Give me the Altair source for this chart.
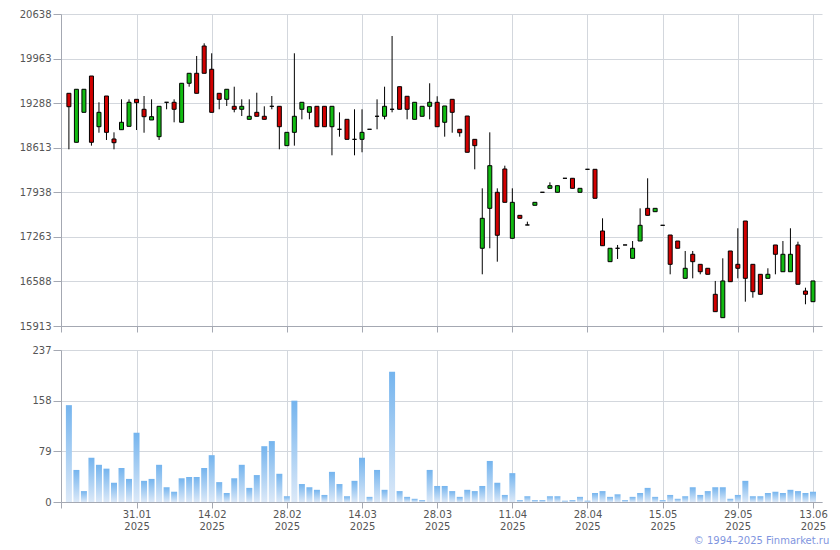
import altair as alt
import pandas as pd

# ---- data ----
opens = [19437, 18695, 19149, 19699, 18931, 19396, 18745, 18886, 18937, 19346,
         19195, 19033, 18780, 19301, 19301, 18998, 19589, 19740, 20153, 19801,
         19437, 19346, 19240, 19195, 19043, 19149, 19089, 19240, 19240, 18644,
         18846, 19195, 19149, 19240, 19240, 18931, 18892, 19043, 18740, 18740,
         18892, 19089, 19089, 19195, 19537, 19392, 19043, 19089, 19240, 19301,
         18998, 19346, 18892, 19093, 18740, 17090, 17695, 17938, 18291, 17241,
         17589, 17443, 17741, 17938, 17998, 17938, 18150, 18150, 17938, 18286,
         18286, 17352, 16887, 17090, 17140, 16938, 17200, 17695, 17644, 17438,
         17291, 17200, 16635, 16999, 16847, 16787, 16393, 16039, 17049, 16847,
         17503, 16847, 16696, 16635, 17140, 16735, 16735, 17140, 16443, 16281]
highs = [19437, 19498, 19498, 19699, 19301, 19396, 18846, 19346, 19346, 19346,
         19396, 19346, 19240, 19301, 19346, 19589, 19740, 20002, 20194, 20043,
         19437, 19498, 19537, 19346, 19346, 19446, 19240, 19396, 19240, 18846,
         20043, 19301, 19234, 19240, 19240, 19240, 19149, 19043, 19195, 19195,
         18892, 19346, 19537, 20305, 19537, 19392, 19301, 19240, 19589, 19392,
         19245, 19346, 18892, 19093, 18740, 17998, 18846, 17998, 18341, 17998,
         17589, 17493, 17786, 17938, 18089, 18038, 18150, 18150, 17998, 18286,
         18286, 17544, 17090, 17140, 17140, 17200, 17695, 18150, 17695, 17438,
         17291, 17200, 17049, 17049, 16847, 16787, 16595, 16938, 17049, 17393,
         17503, 16847, 16696, 16787, 17140, 17200, 17393, 17190, 16493, 16595]
lows = [18589, 18695, 19149, 18644, 18840, 18730, 18589, 18886, 18937, 18881,
        18840, 19033, 18730, 19195, 18998, 18998, 19537, 19437, 19740, 19149,
        19195, 19245, 19149, 19093, 19043, 19089, 19043, 19195, 18589, 18644,
        18644, 19043, 19043, 18931, 18931, 18498, 18780, 18740, 18498, 18544,
        18892, 18892, 19043, 19149, 19195, 19043, 19043, 19089, 19043, 18931,
        18780, 18840, 18780, 18544, 18286, 16696, 17090, 16887, 17786, 17241,
        17544, 17443, 17741, 17938, 17998, 17938, 18150, 17998, 17938, 18286,
        17847, 17129, 16887, 16928, 17140, 16938, 17200, 17589, 17644, 17438,
        16696, 17090, 16635, 16635, 16696, 16696, 16130, 16039, 16584, 16635,
        16281, 16342, 16393, 16635, 16696, 16735, 16735, 16545, 16242, 16281]
closes = [19234, 19498, 19498, 18695, 19149, 18846, 18689, 18998, 19301, 19295,
          19083, 19083, 19240, 19301, 19195, 19589, 19740, 19437, 19740, 19149,
          19346, 19498, 19195, 19240, 19089, 19089, 19043, 19240, 18931, 18846,
          19089, 19301, 19234, 18931, 18931, 19240, 18892, 18740, 18740, 18846,
          18892, 19089, 19240, 19195, 19195, 19195, 19301, 19240, 19301, 18931,
          19245, 19149, 18840, 18544, 18644, 17544, 18341, 17287, 17786, 17786,
          17544, 17443, 17786, 17938, 18038, 18038, 18150, 17998, 17998, 18286,
          17847, 17129, 17090, 17090, 17140, 17090, 17438, 17589, 17695, 17438,
          16847, 17090, 16787, 16887, 16735, 16696, 16130, 16595, 16584, 16787,
          16635, 16433, 16393, 16696, 16999, 16999, 16999, 16545, 16393, 16595]
volumes = [151, 50, 17, 69, 58, 52, 30, 53, 36, 108,
           33, 36, 58, 23, 16, 37, 39, 39, 53, 73,
           31, 14, 37, 58, 22, 42, 87, 95, 44, 9,
           158, 28, 23, 19, 11, 47, 28, 9, 33, 69,
           8, 50, 19, 203, 17, 8, 5, 3, 50, 25,
           25, 17, 8, 19, 17, 25, 64, 30, 11, 45,
           3, 9, 3, 3, 9, 9, 2, 3, 8, 2,
           14, 17, 8, 12, 3, 8, 14, 22, 8, 3,
           11, 5, 9, 23, 11, 17, 23, 23, 5, 11,
           33, 9, 9, 14, 16, 14, 19, 17, 14, 16]

tick_index = [9, 19, 29, 39, 49, 59, 69, 79, 89, 99]
tick_dates = ["31.01", "14.02", "28.02", "14.03", "28.03",
              "11.04", "28.04", "15.05", "29.05", "13.06"]
tick_year = "2025"
price_ticks = [15913, 16588, 17263, 17938, 18613, 19288, 19963, 20638]
volume_ticks = [0, 79, 158, 237]

df = pd.DataFrame({
    "i": list(range(len(opens))),
    "open": opens, "high": highs, "low": lows, "close": closes,
    "volume": volumes,
})

# ---- style ----
FONT = "DejaVu Sans"
LABEL_COLOR = "#555555"
GRID = "#d3d7dd"
AXIS = "#a4a8b2"
UP = "#12bb12"
DOWN = "#d10000"

x_min, x_max = -1.05, 100.2
x_scale = alt.Scale(domain=[x_min, x_max], nice=False, zero=False, padding=0)

label_expr = " : ".join(
    f"datum.value == {v} ? ['{d}', '{tick_year}']" for v, d in zip(tick_index, tick_dates)
) + " : ''"

top_x_axis = alt.Axis(values=[x_min] + tick_index, labels=False, ticks=True, tickSize=6,
                      title=None, grid=True)
bottom_x_axis = alt.Axis(values=[x_min] + tick_index, labelExpr=label_expr, tickSize=6,
                         title=None, grid=True, labelFlush=False, labelPadding=1,
                         labelLineHeight=12.5)

price_scale = alt.Scale(domain=[price_ticks[0], price_ticks[-1]], nice=False, zero=False)
price_axis = alt.Axis(values=price_ticks, title=None, tickSize=8, labelPadding=2, format="d")

vol_scale = alt.Scale(domain=[volume_ticks[0], volume_ticks[-1]], nice=False)
vol_axis = alt.Axis(values=volume_ticks, title=None, tickSize=8, labelPadding=2)

base = alt.Chart(df)

wicks = base.mark_rule(color="black", strokeWidth=1).encode(
    x=alt.X("i:Q", scale=x_scale, axis=top_x_axis),
    y=alt.Y("low:Q", scale=price_scale, axis=price_axis),
    y2="high:Q",
)

bodies = base.transform_calculate(
    dir="datum.close >= datum.open ? 'up' : 'down'"
).mark_bar(size=4, stroke="black", strokeWidth=1).encode(
    x=alt.X("i:Q", scale=x_scale),
    y=alt.Y("open:Q", scale=price_scale),
    y2="close:Q",
    color=alt.Color("dir:N", scale=alt.Scale(domain=["up", "down"], range=[UP, DOWN]),
                    legend=None),
)

top = alt.layer(wicks, bodies).properties(width=761, height=312)

vol = base.mark_bar(
    size=6,
    color=alt.Gradient(
        gradient="linear", x1=0, x2=0, y1=0, y2=1,
        stops=[alt.GradientStop(color="#74b4ee", offset=0),
               alt.GradientStop(color="#dce9f8", offset=1)],
    ),
).encode(
    x=alt.X("i:Q", scale=x_scale, axis=bottom_x_axis),
    y=alt.Y("volume:Q", scale=vol_scale, axis=vol_axis),
).properties(width=761, height=152)

chart = alt.vconcat(top, vol, spacing=12).properties(
    title=alt.TitleParams(
        text="© 1994–2025 Finmarket.ru", orient="bottom", anchor="end",
        font=FONT, fontSize=10, fontWeight="normal", color="#7f95e0", dx=2, offset=4,
    )
).configure(
    padding={"left": 11, "top": 1, "right": 0, "bottom": 0},
).configure_view(stroke=None).configure_axis(
    labelFont=FONT, labelFontSize=10, labelColor=LABEL_COLOR,
    gridColor=GRID, gridWidth=1, domainColor=AXIS, tickColor=AXIS,
)

chart.save("out.html", embed_options={"renderer": "svg", "actions": False})
